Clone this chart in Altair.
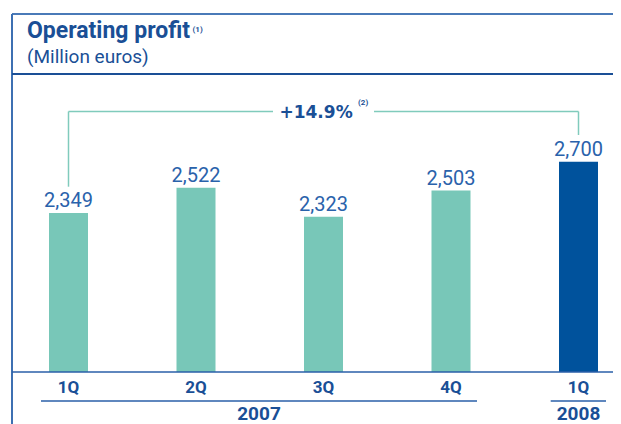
import altair as alt
import pandas as pd

# ---- data ----
quarters = ["1Q", "2Q", "3Q", "4Q", "1Q"]
years = ["2007", "2007", "2007", "2007", "2008"]
profit = [2349, 2522, 2323, 2503, 2700]
labels = ["2,349", "2,522", "2,323", "2,503", "2,700"]
year_labels = ["2007", "2008"]

title_text = "Operating profit"
title_note = "(1)"
subtitle_text = "(Million euros)"
growth_note = "(2)"

keys = [f"{q} {y}" for q, y in zip(quarters, years)]
df = pd.DataFrame({"key": keys, "quarter": quarters, "year": years,
                   "profit": profit, "label": labels})
growth = (profit[-1] / profit[0] - 1) * 100
growth_text = f"+{growth:.1f}%"

# ---- styles ----
TEAL = "#78c7b8"
DARK = "#00529c"
TXT = "#2a62ab"
HEAD = "#1a4f96"
LINE = "#2a5fa8"
BRACKET = "#80cbbc"
FONT = "Roboto"
W = 605

Y_MIN = 1259
xs = alt.Scale(type="point", domain=keys, range=[60.5, 570.5], padding=0)
ys = alt.Scale(domain=[Y_MIN, 3754], zero=False, nice=False)
X = alt.X("key:N", scale=xs, axis=None, sort=keys)
Y = alt.Y("profit:Q", scale=ys, axis=None)

base = alt.Chart(df)

bars = base.mark_bar(size=39).encode(
    x=X, y=Y, y2=alt.datum(Y_MIN),
    color=alt.Color("year:N", scale=alt.Scale(domain=year_labels, range=[TEAL, DARK]), legend=None),
)

values = base.mark_text(dy=-6, baseline="alphabetic", font=FONT, fontSize=20, color=TXT).encode(
    x=X, y=Y, text="label:N")

qlabels = base.mark_text(baseline="alphabetic", font=FONT, fontSize=17, fontWeight="bold", color=HEAD).encode(
    x=X, y=alt.value(384.5), text="quarter:N")

ydf = pd.DataFrame({"year": year_labels})
ylab_2007 = alt.Chart(ydf.iloc[[0]]).mark_text(baseline="alphabetic", font=FONT, fontSize=19, fontWeight="bold", color=HEAD).encode(
    x=alt.value(251), y=alt.value(412), text="year:N")
ylab_2008 = alt.Chart(ydf.iloc[[1]]).mark_text(baseline="alphabetic", font=FONT, fontSize=19, fontWeight="bold", color=HEAD).encode(
    x=alt.value(570.5), y=alt.value(412), text="year:N")

ul_2007 = alt.Chart(ydf.iloc[[0]]).mark_rule(color=LINE, strokeWidth=1.5).encode(
    x=alt.value(33), x2=alt.value(469), y=alt.value(393))
ul_2008 = alt.Chart(ydf.iloc[[1]]).mark_rule(color=LINE, strokeWidth=1.5).encode(
    x=alt.value(542.7), x2=alt.value(598), y=alt.value(393))

# bracket
first = alt.Chart(df.iloc[[0]])
last = alt.Chart(df.iloc[[-1]])
left_v = first.mark_rule(color=BRACKET, strokeWidth=1.5).encode(x=X, y=alt.value(103.5), y2=alt.value(178.7))
left_h = first.mark_rule(color=BRACKET, strokeWidth=1.5).encode(x=X, x2=alt.value(265), y=alt.value(103.5))
right_v = last.mark_rule(color=BRACKET, strokeWidth=1.5).encode(x=X, y=alt.value(103.5), y2=alt.value(127))
right_h = last.mark_rule(color=BRACKET, strokeWidth=1.5).encode(x=X, x2=alt.value(366), y=alt.value(103.5))

tdf = pd.DataFrame({"t": [growth_text], "n": [growth_note], "title": [title_text], "tn": [title_note], "sub": [subtitle_text]})
tb = alt.Chart(tdf)
growth_mark = tb.mark_text(align="right", baseline="alphabetic", font="DejaVu Sans", fontSize=17, fontWeight="bold", color=HEAD).encode(
    x=alt.value(344.7), y=alt.value(110.3), text="t:N")
growth_note_mark = tb.mark_text(align="left", baseline="alphabetic", font=FONT, fontSize=8, fontWeight="bold", color=HEAD).encode(
    x=alt.value(350), y=alt.value(97), text="n:N")

title_mark = tb.mark_text(align="left", baseline="alphabetic", font=FONT, fontSize=23, fontWeight="bold", color=HEAD).encode(
    x=alt.value(19), y=alt.value(30.3), text="title:N")
title_note_mark = tb.mark_text(align="left", baseline="alphabetic", font=FONT, fontSize=8, fontWeight="bold", color=HEAD).encode(
    x=alt.value(184.5), y=alt.value(24), text="tn:N")
sub_mark = tb.mark_text(align="left", baseline="alphabetic", font=FONT, fontSize=19, color=HEAD).encode(
    x=alt.value(19), y=alt.value(55.3), text="sub:N")

# frame
top_border = tb.mark_rule(color="#4a7ab8", strokeWidth=2).encode(x=alt.value(4), x2=alt.value(W), y=alt.value(6))
left_border = tb.mark_rule(color="#3d70b2", strokeWidth=2).encode(x=alt.value(4), y=alt.value(6), y2=alt.value(416))
sep = tb.mark_rule(color=HEAD, strokeWidth=2).encode(x=alt.value(4), x2=alt.value(W), y=alt.value(66))
baseline = tb.mark_rule(color=LINE, strokeWidth=1.5).encode(x=alt.value(4), x2=alt.value(W), y=alt.value(364))

chart = alt.layer(
    top_border, left_border, sep, title_mark, title_note_mark, sub_mark,
    left_v, left_h, right_v, right_h, growth_mark, growth_note_mark,
    bars, values, baseline, qlabels, ul_2007, ul_2008, ylab_2007, ylab_2008,
).properties(
    width=W, height=364,
    autosize=alt.AutoSizeParams(type="none"),
    padding={"left": 0, "top": 0, "right": 0, "bottom": 52},
).configure_view(stroke=None)

chart.save("out.html", embed_options={"renderer": "svg", "actions": False})
